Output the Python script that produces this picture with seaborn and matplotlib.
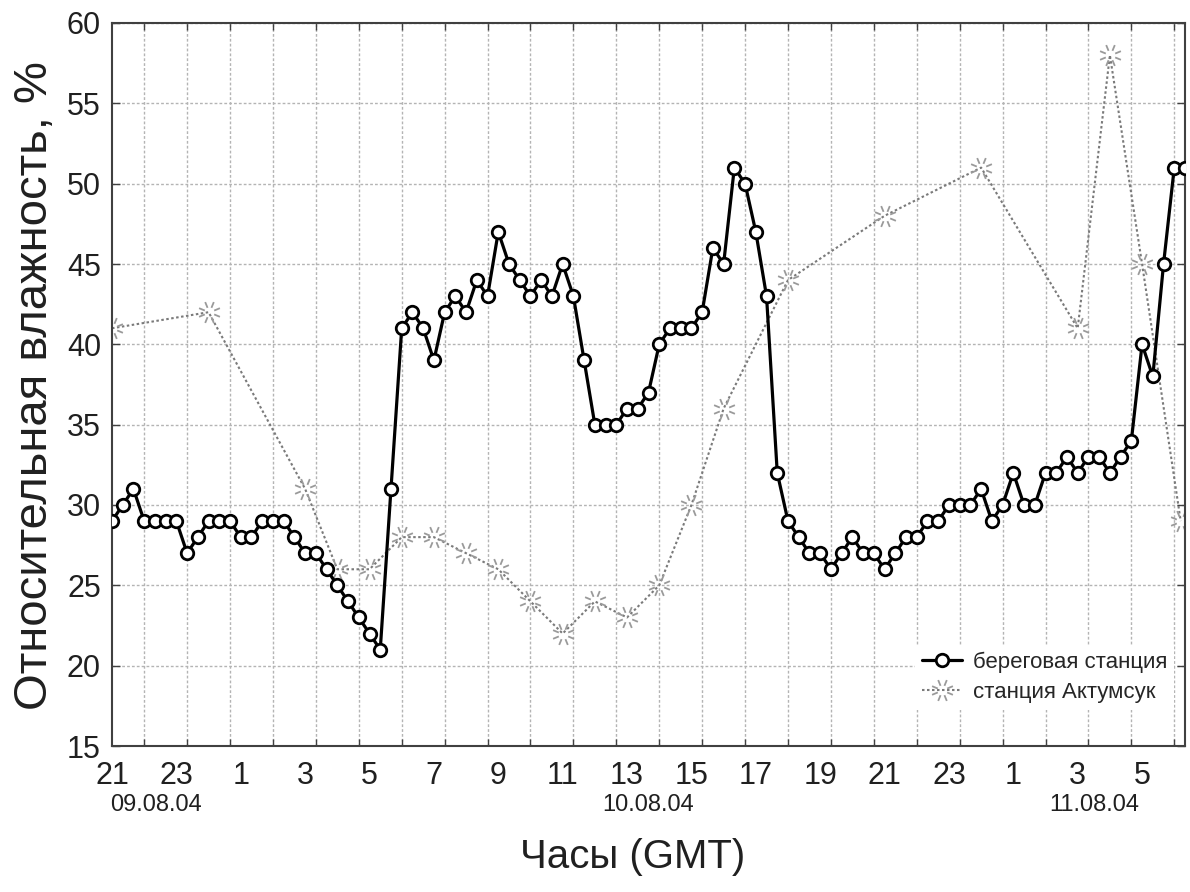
import numpy as np
import pandas as pd
import matplotlib
matplotlib.use("Agg")
import matplotlib.pyplot as plt
import seaborn as sns
from matplotlib.path import Path
from matplotlib.ticker import FixedLocator

# ---------------- data ----------------
# coastal station, every 20 minutes starting 21:00 09.08.04
coast_rh = [29, 30, 31, 29, 29, 29, 29, 27, 28, 29, 29, 29, 28, 28, 29, 29, 29, 28, 27, 27,
            26, 25, 24, 23, 22, 21, 31, 41, 42, 41, 39, 42, 43, 42, 44, 43, 47, 45, 44, 43,
            44, 43, 45, 43, 39, 35, 35, 35, 36, 36, 37, 40, 41, 41, 41, 42, 46, 45, 51, 50,
            47, 43, 32, 29, 28, 27, 27, 26, 27, 28, 27, 27, 26, 27, 28, 28, 29, 29, 30, 30,
            30, 31, 29, 30, 32, 30, 30, 32, 32, 33, 32, 33, 33, 32, 33, 34, 40, 38, 45, 51,
            51]
coast_hours = np.arange(len(coast_rh)) / 3.0  # hours since 21:00 09.08.04

# Aktumsuk station (hours since 21:00 09.08.04)
akt_hours = [0, 3, 6, 7, 8, 9, 10, 11, 12, 13, 14, 15, 16, 17, 18, 19, 21, 24, 27, 30, 31, 32, 33.2]
akt_rh = [41, 42, 31, 26, 26, 28, 28, 27, 26, 24, 22, 24, 23, 25, 30, 36, 44, 48, 51, 41, 58, 45, 29]

hour_ticks = list(range(0, 33, 2))
hour_labels = ["21", "23", "1", "3", "5", "7", "9", "11", "13", "15", "17", "19",
               "21", "23", "1", "3", "5"]
date_labels = ["09.08.04", "10.08.04", "11.08.04"]

coast_name = "береговая станция"
akt_name = "станция Актумсук"
ylabel = "Относительная влажность, %"
xlabel = "Часы (GMT)"

df_coast = pd.DataFrame({"hours": coast_hours, "rh": coast_rh})
df_akt = pd.DataFrame({"hours": akt_hours, "rh": akt_rh})

# ---------------- style ----------------
sns.set_style("white")
plt.rcParams["font.family"] = ["Liberation Sans", "DejaVu Sans"]

W, H = 1190, 892
fig = plt.figure(figsize=(W / 100, H / 100), dpi=100)
L, R, T, B = 112, 1185, 23, 746
ax = fig.add_axes([L / W, 1 - B / H, (R - L) / W, (B - T) / H])

# custom "sun" marker: 8 short spokes
angles = np.deg2rad(np.arange(0, 360, 45) + 22.5)
verts, codes = [], []
for a in angles:
    verts += [(0.45 * np.cos(a), 0.45 * np.sin(a)), (np.cos(a), np.sin(a))]
    codes += [Path.MOVETO, Path.LINETO]
spoke = Path(verts, codes)

sns.lineplot(data=df_akt, x="hours", y="rh", ax=ax, color="#7a7a7a", lw=1.5,
             linestyle=(0, (1.2, 1.2)), marker=spoke, markersize=15,
             markeredgecolor="#9a9a9a", markeredgewidth=1.3,
             label=akt_name, zorder=2)
sns.lineplot(data=df_coast, x="hours", y="rh", ax=ax, color="black", lw=2.3,
             marker="o", markersize=9, markerfacecolor="white",
             markeredgecolor="black", markeredgewidth=2.0,
             label=coast_name, zorder=3)

ax.set_xlim(0, 100 / 3)
ax.set_ylim(15, 60)
ax.set_yticks(np.arange(15, 61, 5))
ax.set_xticks(hour_ticks)
ax.set_xticklabels(hour_labels)
ax.xaxis.set_minor_locator(FixedLocator(1 + 4 / 3 * np.arange(25)))

ax.grid(False)
gkw = dict(color="#b4b4b4", lw=1.0, ls=(0, (2, 1.5)))
ax.grid(True, axis="y", which="major", **gkw)
ax.grid(True, axis="x", which="minor", **gkw)
ax.set_axisbelow(True)

ax.tick_params(axis="x", which="major", length=0, labelsize=22, pad=11, colors="#202020")
ax.tick_params(axis="x", which="minor", direction="in", length=5, width=1,
               top=True, bottom=True, color="#404040")
ax.tick_params(axis="y", which="major", direction="in", length=6, width=1,
               left=True, right=True, labelsize=22, pad=8, color="#404040", labelcolor="#202020")

for s in ax.spines.values():
    s.set_color("#404040")
    s.set_linewidth(1.5)

ax.set_xlabel("")
ax.set_ylabel("")
fig.text(35 / W, 1 - 386 / H, ylabel, rotation=90, ha="center", va="center",
         fontsize=34, color="#202020")
fig.text(633 / W, 1 - 857 / H, xlabel, ha="center", va="center", fontsize=29, color="#202020")

date_x = [156, 648, 1094]
for dx, lab in zip(date_x, date_labels):
    fig.text(dx / W, 1 - 805 / H, lab, ha="center", va="center", fontsize=17, color="#202020")

handles, labels = ax.get_legend_handles_labels()
order = [labels.index(coast_name), labels.index(akt_name)]
leg = ax.legend([handles[i] for i in order], [labels[i] for i in order],
                loc="lower right", bbox_to_anchor=(1.0, 0.035), fontsize=16,
                frameon=True, framealpha=1, facecolor="white", edgecolor="none",
                handlelength=1.8, handletextpad=0.5, borderpad=0.3, labelspacing=0.4,
                fancybox=False)

fig.savefig("out.png", dpi=100)
